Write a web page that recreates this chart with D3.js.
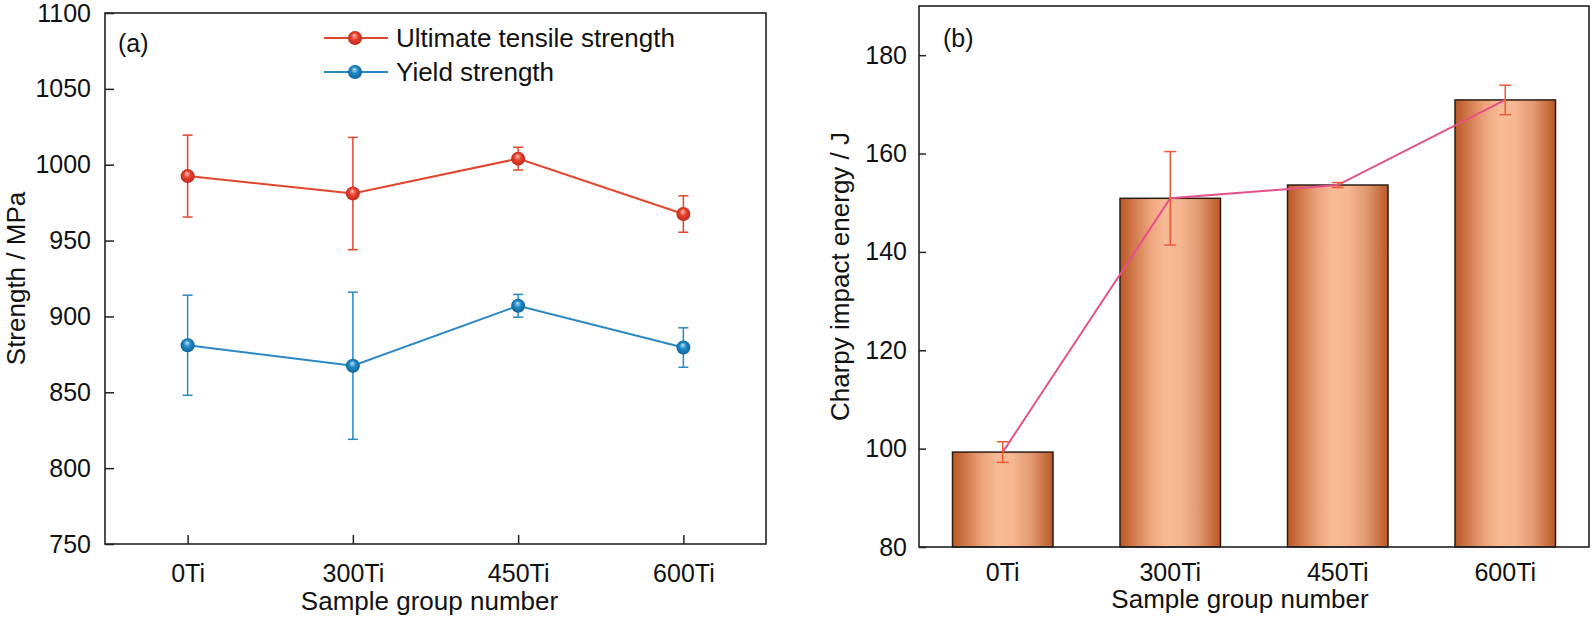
<!DOCTYPE html>
<html>
<head>
<meta charset="utf-8">
<script src="https://cdn.jsdelivr.net/npm/d3@7"></script>
<style>
  body { margin: 0; background: #fff; }
  text { font-family: "Liberation Sans", Arial, sans-serif; fill: #111; }
</style>
</head>
<body>
<svg id="chart" width="1595" height="622"></svg>
<script>
var categories = ["0Ti", "300Ti", "450Ti", "600Ti"];

// panel (a): strength, MPa
var utsValues = [992.5, 981, 1004, 967.5],
  utsErrors = [27, 37, 7.5, 12],
  ysValues = [881, 867.5, 907, 879.5],
  ysErrors = [33, 48.5, 7.5, 13];
var strengthTicks = [750, 800, 850, 900, 950, 1000, 1050, 1100];

// panel (b): charpy impact energy, J
var impactValues = [99.3, 150.9, 153.6, 170.9],
  impactErrors = [2.1, 9.5, 0.5, 3];
var impactTicks = [80, 100, 120, 140, 160, 180];

var svg = d3.select("#chart");
var defs = svg.append("defs");

function sphere(id, light, mid, dark) {
  var g = defs.append("radialGradient").attr("id", id)
    .attr("cx", "50%").attr("cy", "50%").attr("r", "55%")
    .attr("fx", "45%").attr("fy", "30%");
  g.append("stop").attr("offset", "0%").attr("stop-color", light);
  g.append("stop").attr("offset", "45%").attr("stop-color", mid);
  g.append("stop").attr("offset", "100%").attr("stop-color", dark);
}
sphere("ball-red", "#fcc7bb", "#e8402c", "#b8261a");
sphere("ball-blue", "#b9e2f7", "#1d88c6", "#0f5f92");

var barGrad = defs.append("linearGradient").attr("id", "bar-grad")
  .attr("x1", "0%").attr("x2", "100%").attr("y1", "0%").attr("y2", "0%");
[["0%", "#bb5824"], ["30%", "#eda47c"], ["45%", "#f7bb97"], ["60%", "#f5b690"], ["78%", "#e39a72"], ["100%", "#bb5824"]]
  .forEach(function (s) {
    barGrad.append("stop").attr("offset", s[0]).attr("stop-color", s[1]);
  });

// ---------- panel (a) ----------
var a = { left: 105, right: 766, top: 13, bottom: 544 };
var x_a = d3.scalePoint().domain(categories).range([a.left, a.right]).padding(0.5),
  y_a = d3.scaleLinear().domain([750, 1100]).range([a.bottom, a.top]);

var g_a = svg.append("g");

g_a.append("g")
  .attr("transform", "translate(0," + a.bottom + ")")
  .call(d3.axisBottom(x_a).tickSizeInner(-9).tickSizeOuter(0).tickPadding(20))
  .call(function (g) { g.select(".domain").remove(); });

g_a.append("g")
  .attr("transform", "translate(" + a.left + ",0)")
  .call(d3.axisLeft(y_a).tickValues(strengthTicks).tickFormat(d3.format("d"))
    .tickSizeInner(-9).tickSizeOuter(0).tickPadding(14))
  .call(function (g) { g.select(".domain").remove(); });

g_a.selectAll(".tick line").attr("stroke", "#222").attr("stroke-width", 1.5);
g_a.selectAll(".tick text").attr("font-size", 25).attr("fill", "#111")
  .style("font-family", "'Liberation Sans', Arial, sans-serif");

g_a.append("rect")
  .attr("x", a.left).attr("y", a.top)
  .attr("width", a.right - a.left).attr("height", a.bottom - a.top)
  .attr("fill", "none").attr("stroke", "#222").attr("stroke-width", 1.6);

var series = [
  { name: "Ultimate tensile strength", values: utsValues, errors: utsErrors, color: "#e2462f", ball: "ball-red" },
  { name: "Yield strength", values: ysValues, errors: ysErrors, color: "#2a88c4", ball: "ball-blue" }
];

series.forEach(function (s) {
  var pts = categories.map(function (c, i) { return { c: c, v: s.values[i], e: s.errors[i] }; });
  var eb = g_a.append("g").attr("stroke", s.color).attr("stroke-width", 1.5);
  pts.forEach(function (d) {
    var cx = x_a(d.c);
    eb.append("line").attr("x1", cx).attr("x2", cx).attr("y1", y_a(d.v - d.e)).attr("y2", y_a(d.v + d.e));
    eb.append("line").attr("x1", cx - 5).attr("x2", cx + 5).attr("y1", y_a(d.v + d.e)).attr("y2", y_a(d.v + d.e));
    eb.append("line").attr("x1", cx - 5).attr("x2", cx + 5).attr("y1", y_a(d.v - d.e)).attr("y2", y_a(d.v - d.e));
  });
  g_a.append("path").datum(pts)
    .attr("fill", "none").attr("stroke", s.color).attr("stroke-width", 2)
    .attr("d", d3.line().x(function (d) { return x_a(d.c); }).y(function (d) { return y_a(d.v); }));
  g_a.selectAll(null).data(pts).enter().append("ellipse")
    .attr("cx", function (d) { return x_a(d.c); })
    .attr("cy", function (d) { return y_a(d.v); })
    .attr("rx", 7).attr("ry", 7)
    .attr("fill", "url(#" + s.ball + ")");
});

// legend
var legend = g_a.append("g");
series.forEach(function (s, i) {
  var ly = 38 + i * 34;
  legend.append("line").attr("x1", 324).attr("x2", 388).attr("y1", ly).attr("y2", ly)
    .attr("stroke", s.color).attr("stroke-width", 2);
  legend.append("circle").attr("cx", 355).attr("cy", ly).attr("r", 7).attr("fill", "url(#" + s.ball + ")");
  legend.append("text").attr("x", 396).attr("y", ly + 9).attr("font-size", 26).text(s.name);
});

g_a.append("text").attr("x", 118).attr("y", 52).attr("font-size", 25).text("(a)");

g_a.append("text")
  .attr("x", (a.left + a.right) / 2 - 6).attr("y", 610)
  .attr("text-anchor", "middle").attr("font-size", 26)
  .text("Sample group number");

g_a.append("text")
  .attr("transform", "translate(25," + ((a.top + a.bottom) / 2) + ") rotate(-90)")
  .attr("text-anchor", "middle").attr("font-size", 26)
  .text("Strength / MPa");

// ---------- panel (b) ----------
var b = { left: 919, right: 1589, top: 6, bottom: 547 };
var x_b = d3.scaleBand().domain(categories).range([b.left, b.right]).paddingInner(0.4).paddingOuter(0.2),
  y_b = d3.scaleLinear().domain([80, 190]).range([b.bottom, b.top]);

var g_b = svg.append("g");

g_b.selectAll(".bar")
  .data(categories)
  .enter().append("rect")
  .attr("class", "bar")
  .attr("x", function (d) { return x_b(d); })
  .attr("y", function (d, i) { return y_b(impactValues[i]); })
  .attr("width", x_b.bandwidth())
  .attr("height", function (d, i) { return b.bottom - y_b(impactValues[i]); })
  .attr("fill", "url(#bar-grad)")
  .attr("stroke", "#2a1d16").attr("stroke-width", 1.5);

var cxb = function (d) { return x_b(d) + x_b.bandwidth() / 2; };

g_b.append("path").datum(categories)
  .attr("fill", "none").attr("stroke", "#e5508a").attr("stroke-width", 2)
  .attr("d", d3.line().x(cxb).y(function (d, i) { return y_b(impactValues[i]); }));

var ebb = g_b.append("g").attr("stroke", "#ef5a34").attr("stroke-width", 1.5);
categories.forEach(function (c, i) {
  var cx = cxb(c), hi = y_b(impactValues[i] + impactErrors[i]), lo = y_b(impactValues[i] - impactErrors[i]);
  ebb.append("line").attr("x1", cx).attr("x2", cx).attr("y1", lo).attr("y2", hi);
  ebb.append("line").attr("x1", cx - 6).attr("x2", cx + 6).attr("y1", hi).attr("y2", hi);
  ebb.append("line").attr("x1", cx - 6).attr("x2", cx + 6).attr("y1", lo).attr("y2", lo);
});

g_b.append("g")
  .attr("transform", "translate(0," + b.bottom + ")")
  .call(d3.axisBottom(x_b).tickSize(0).tickPadding(16))
  .call(function (g) { g.select(".domain").remove(); });

g_b.append("g")
  .attr("transform", "translate(" + b.left + ",0)")
  .call(d3.axisLeft(y_b).tickValues(impactTicks).tickSizeInner(-7).tickSizeOuter(0).tickPadding(12))
  .call(function (g) { g.select(".domain").remove(); });

g_b.selectAll(".tick line").attr("stroke", "#222").attr("stroke-width", 1.5);
g_b.selectAll(".tick text").attr("font-size", 25).attr("fill", "#111")
  .style("font-family", "'Liberation Sans', Arial, sans-serif");

g_b.append("rect")
  .attr("x", b.left).attr("y", b.top)
  .attr("width", b.right - b.left).attr("height", b.bottom - b.top)
  .attr("fill", "none").attr("stroke", "#222").attr("stroke-width", 1.6);

g_b.append("text").attr("x", 943).attr("y", 47).attr("font-size", 25).text("(b)");

g_b.append("text")
  .attr("x", 1240).attr("y", 608)
  .attr("text-anchor", "middle").attr("font-size", 26)
  .text("Sample group number");

g_b.append("text")
  .attr("transform", "translate(849," + ((b.top + b.bottom) / 2) + ") rotate(-90)")
  .attr("text-anchor", "middle").attr("font-size", 26)
  .text("Charpy impact energy / J");
</script>
</body>
</html>
